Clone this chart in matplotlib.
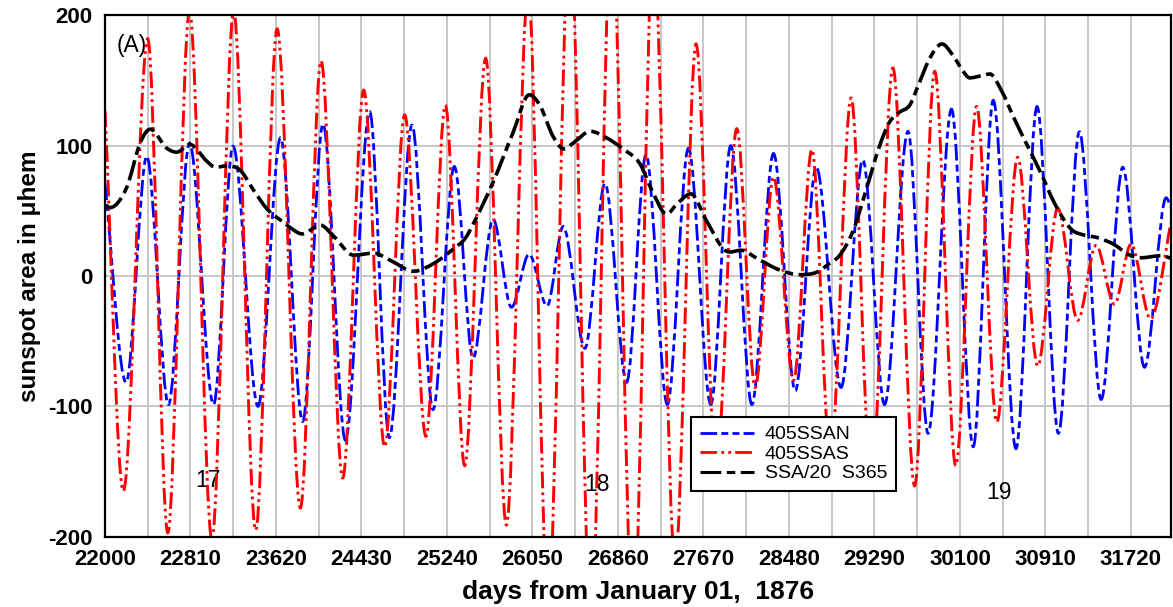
# -*- coding: utf-8 -*-
# sunspot area, 405-day filtered north / south series and smoothed total

import numpy as np
import matplotlib.pyplot as plt
from matplotlib.path import Path
from matplotlib.patches import PathPatch
from matplotlib.lines import Line2D
from matplotlib.ticker import FixedLocator

plt.rcParams['font.family'] = ['Liberation Sans', 'DejaVu Sans']
plt.rcParams['lines.scale_dashes'] = False
plt.rcParams['axes.unicode_minus'] = False

# 405SSAN (blue), read at the turning points
ssan_day = [22000, 22200, 22396, 22602, 22801, 23029, 23213, 23450, 23663, 23873,
            24066, 24278, 24508, 24694, 24909, 25108, 25310, 25487, 25677, 25851,
            26018, 26189, 26341, 26547, 26737, 26942, 27126, 27328, 27528, 27740,
            27929, 28129, 28334, 28540, 28739, 28974, 29180, 29386, 29608, 29798,
            30020, 30226, 30416, 30631, 30831, 31033, 31232, 31438, 31643, 31849,
            32054, 32100]
ssan_val = [71, -81.6, 91.8, -98.6, 102, -98.6, 99.6, -100, 106, -111.6,
            116.6, -126, 126, -124, 115.8, -102.5, 84, -63, 43.5, -24,
            16.7, -23, 38, -55.5, 71, -81.6, 93, -98.6, 98, -98.6,
            100, -98.6, 94, -88, 83.4, -85.5, 89, -98.6, 111, -120.7,
            128, -131, 134.8, -132.5, 130, -120.7, 110.6, -94.7, 83.4, -70,
            60, 52.7]

# 405SSAS (red)
ssas_day = [22000, 22174, 22405, 22595, 22801, 23013, 23219, 23428, 23631, 23851,
            24047, 24252, 24451, 24650, 24839, 25041, 25225, 25408, 25607, 25803,
            26010, 26199, 26404, 26605, 26800, 27005, 27195, 27401, 27600, 27790,
            27986, 28160, 28334, 28524, 28698, 28873, 29069, 29261, 29465, 29671,
            29861, 30061, 30258, 30450, 30647, 30837, 31027, 31216, 31390, 31564,
            31722, 31906, 32100]
ssas_val = [127, -165, 182, -197, 203, -202, 203, -195, 189.6, -178,
            165, -155, 142.6, -131, 123.6, -123, 131, -145.5, 167, -191,
            220, -255, 270, -270, 278, -275, 255, -220, 178, -150,
            113, -85.5, 76, -80, 97, -140, 136.6, -160, 159.6, -161,
            157, -145.5, 130, -112, 91, -69, 52, -34, 23.5, -21.6,
            24.5, -33, 41]

# SSA/20 S365 (black)
ssa_day = [22000, 22047, 22206, 22333, 22428, 22586, 22681, 22801, 22966, 23045,
           23156, 23283, 23409, 23536, 23694, 23757, 23867, 24041, 24167, 24356,
           24546, 24704, 24925, 25114, 25304, 25414, 25487, 25677, 25866, 26020,
           26120, 26246, 26350, 26436, 26600, 26752, 26900, 27069, 27180, 27322,
           27417, 27550, 27702, 27870, 28050, 28176, 28398, 28588, 28746, 28863,
           28958, 29085, 29211, 29338, 29433, 29529, 29624, 29719, 29814, 29930,
           30036, 30131, 30192, 30321, 30384, 30495, 30616, 30742, 30869, 30995,
           31153, 31280, 31400, 31564, 31691, 31817, 32007, 32100]
ssa_val = [54, 52.5, 68, 102, 112.6, 98, 95, 101, 88, 83.4,
           84.5, 81, 65.7, 51.4, 41, 37, 32.3, 39, 30.5, 16,
           17.5, 12, 3.6, 9.6, 21, 29, 39.6, 72, 110, 139,
           131, 107, 97.5, 102, 111, 106, 98, 86, 66, 47.5,
           55, 63, 42, 20, 19.5, 13.6, 4.4, 1, 3, 9.6,
           15.6, 34, 66, 99.6, 118, 125.7, 131, 149, 167, 178,
           169, 157, 152, 154, 155, 142, 120.5, 99.6, 78.7, 56,
           36, 31.3, 29.5, 24, 16.7, 14, 15.6, 13.6]

xticks = [22000 + 810 * k for k in range(13)]
xgrid = [22000 + 405 * k for k in range(26)]
yticks = [-200, -100, 0, 100, 200]


def smooth_path(x, y):
    # bezier path through the read points, flat at turning points
    x = np.asarray(x, float)
    y = np.asarray(y, float)
    sec = np.diff(y) / np.diff(x)
    m = np.zeros(len(x))
    m[0] = sec[0]
    m[-1] = sec[-1]
    for i in range(1, len(x) - 1):
        if sec[i - 1] * sec[i] > 0:
            m[i] = 0.5 * (sec[i - 1] + sec[i])
    verts = [(x[0], y[0])]
    codes = [Path.MOVETO]
    for i in range(len(x) - 1):
        dx = x[i + 1] - x[i]
        verts += [(x[i] + dx / 3, y[i] + m[i] * dx / 3),
                  (x[i + 1] - dx / 3, y[i + 1] - m[i + 1] * dx / 3),
                  (x[i + 1], y[i + 1])]
        codes += [Path.CURVE4] * 3
    return Path(verts, codes)


blue_ls = (0, (12, 3, 5, 3, 5, 3))
red_ls = (0, (12, 3, 2, 3, 2, 3))
black_ls = (0, (15, 4, 6, 4))

fig = plt.figure(figsize=(11.73, 6.07), dpi=100)
ax = fig.add_axes([0.0895, 0.1158, 0.9088, 0.859])

ax.add_patch(PathPatch(smooth_path(ssan_day, ssan_val), fill=False,
                       edgecolor='#0000ff', lw=2.0, ls=blue_ls, zorder=3))
ax.add_patch(PathPatch(smooth_path(ssas_day, ssas_val), fill=False,
                       edgecolor='#ff0000', lw=2.1, ls=red_ls, zorder=4))
ax.add_patch(PathPatch(smooth_path(ssa_day, ssa_val), fill=False,
                       edgecolor='black', lw=2.6, ls=black_ls, zorder=5))

ax.set_xlim(22000, 32100)
ax.set_ylim(-200, 200)
ax.set_xticks(xticks)
ax.xaxis.set_minor_locator(FixedLocator(xgrid))
ax.set_yticks(yticks)
ax.grid(True, which='both', color='#c4c4c4', lw=1.3)
ax.set_axisbelow(True)
ax.tick_params(which='both', length=0)
ax.tick_params(axis='x', pad=9)
ax.tick_params(axis='y', pad=9)
for lab in ax.get_xticklabels() + ax.get_yticklabels():
    lab.set_fontsize(16)
    lab.set_fontweight('bold')
for sp in ax.spines.values():
    sp.set_linewidth(1.6)
    sp.set_zorder(6)

ax.set_xlabel('days from January 01,  1876', fontsize=19, fontweight='bold', labelpad=7)
ax.set_ylabel('sunspot area in μhem', fontsize=17.5, fontweight='bold', labelpad=5)

ax.text(22256, 177, '(A)', fontsize=16.5, ha='center', va='center')
ax.text(22975, -157, '17', fontsize=16.5, ha='center', va='center')
ax.text(26658, -160, '18', fontsize=16.5, ha='center', va='center')
ax.text(30473, -166, '19', fontsize=16.5, ha='center', va='center')

handles = [Line2D([], [], color='#0000ff', lw=2.0, ls=blue_ls),
           Line2D([], [], color='#ff0000', lw=2.0, ls=red_ls),
           Line2D([], [], color='black', lw=2.2, ls=black_ls)]
leg = ax.legend(handles, ['405SSAN', '405SSAS', 'SSA/20  S365'],
                loc='upper left', bbox_to_anchor=(0.5497, 0.2296),
                borderaxespad=0, fontsize=14, frameon=True, fancybox=False,
                framealpha=1, edgecolor='black', handlelength=2.8,
                handletextpad=0.55, labelspacing=0.1, borderpad=0.45)
leg.get_frame().set_linewidth(1.5)
leg.set_zorder(10)

fig.savefig('out.png', dpi=100)
